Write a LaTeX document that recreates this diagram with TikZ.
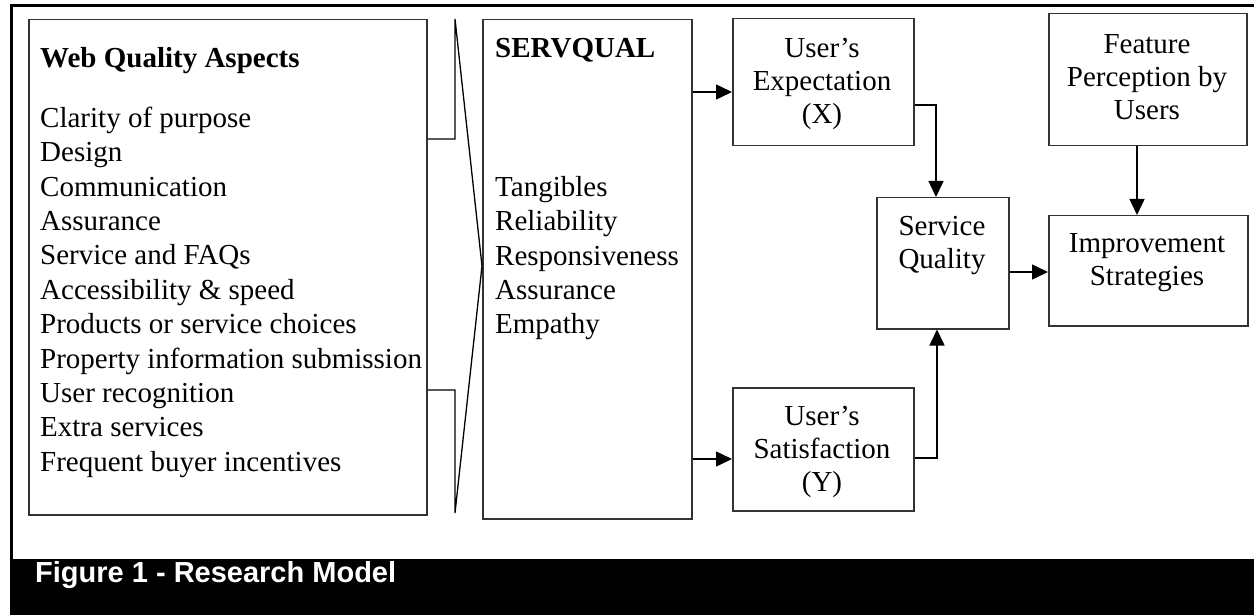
\documentclass[tikz,border=0pt]{standalone}
\usepackage{fontspec}
\setmainfont{Liberation Serif}
\newfontfamily\capfont{Liberation Sans}
\usetikzlibrary{arrows.meta}
\definecolor{boxline}{HTML}{333333}
\tikzset{
  box/.style={draw=boxline, line width=1.5pt, anchor=north west, inner sep=0pt},
  listtxt/.style={anchor=north west, inner sep=0pt, align=left, font=\fontsize{29}{34.4}\selectfont},
  headtxt/.style={anchor=base west, inner sep=0pt, font=\fontsize{29}{34}\selectfont\bfseries},
  ctrtxt/.style={anchor=north, inner sep=0pt, align=center, font=\fontsize{29}{33}\selectfont},
  conn/.style={draw=black, line width=1.5pt},
  arr/.style={conn, -{Triangle[length=16pt,width=15pt]}},
}
\begin{document}
\begin{tikzpicture}[x=1pt,y=-1pt]
\fill[white] (0,0) rectangle (1254,615);
\useasboundingbox (0,0) rectangle (1254,615);
% outer frame and caption bar
\draw[line width=3pt] (11.5,559) -- (11.5,5.5) -- (1254,5.5);
\fill[black] (10,559) rectangle (1254,615);
\node[anchor=base west, inner sep=0pt, text=white, font=\capfont\bfseries\fontsize{29}{34}\selectfont] (cap) at (35,582) {Figure 1 - Research Model};

% boxes
\node[box, minimum width=398pt, minimum height=495pt] (web) at (28,19) {};
\node[box, minimum width=209pt, minimum height=499pt] (servq) at (482,19) {};
\node[box, minimum width=181pt, minimum height=127pt] (exp) at (732,18) {};
\node[box, minimum width=181pt, minimum height=123pt] (sat) at (732,387) {};
\node[box, minimum width=132pt, minimum height=131pt] (sq) at (876,197) {};
\node[box, minimum width=198pt, minimum height=132pt] (feat) at (1048,13) {};
\node[box, minimum width=199pt, minimum height=110pt] (imp) at (1048,215) {};

% texts
\node[headtxt] (webhead) at (40,68) {Web Quality Aspects};
\node[listtxt] (weblist) at (40,103) {\strut Clarity of purpose\\Design\\Communication\\Assurance\\Service and FAQs\\Accessibility \& speed\\Products or service choices\\Property information submission\\User recognition\\Extra services\\Frequent buyer incentives};
\node[headtxt] (sqhead) at (495,58) {SERVQUAL};
\node[listtxt] (sqlist) at (495,172) {\strut Tangibles\\Reliability\\Responsiveness\\Assurance\\Empathy};
\node[ctrtxt] (exptxt) at (822,34) {\strut User’s\\Expectation\\(X)};
\node[ctrtxt] (sattxt) at (822,402) {\strut User’s\\Satisfaction\\(Y)};
\node[ctrtxt] (sqtxt) at (942,212) {\strut Service\\Quality};
\node[ctrtxt] (feattxt) at (1147,30) {\strut Feature\\Perception by\\Users};
\node[ctrtxt] (imptxt) at (1147,229) {\strut Improvement\\Strategies};

% chevron
\coordinate (c1) at (455,139);
\coordinate (c2) at (455,19);
\coordinate (apex) at (482,266);
\coordinate (c3) at (455,513);
\coordinate (c4) at (455,390);
\draw[conn, line width=1.3pt] (web.east |- c1) -- (c1) -- (c2) -- (apex) -- (c3) -- (c4) -- (web.east |- c4);

% connectors
\coordinate (yexp) at (0,92);
\coordinate (ysat) at (0,459);
\coordinate (yeo) at (0,105);
\coordinate (xeo) at (936,0);
\coordinate (yso) at (0,458);
\coordinate (xso) at (937,0);
\coordinate (yimp) at (0,272);
\coordinate (xfi) at (1137,0);
\draw[arr] (servq.east |- yexp) -- (exp.west |- yexp);
\draw[arr] (servq.east |- ysat) -- (sat.west |- ysat);
\draw[arr] (exp.east |- yeo) -| (sq.north -| xeo);
\draw[arr] (sat.east |- yso) -| (sq.south -| xso);
\draw[arr] (sq.east |- yimp) -- (imp.west |- yimp);
\draw[arr] (feat.south -| xfi) -- (imp.north -| xfi);
\end{tikzpicture}
\end{document}
